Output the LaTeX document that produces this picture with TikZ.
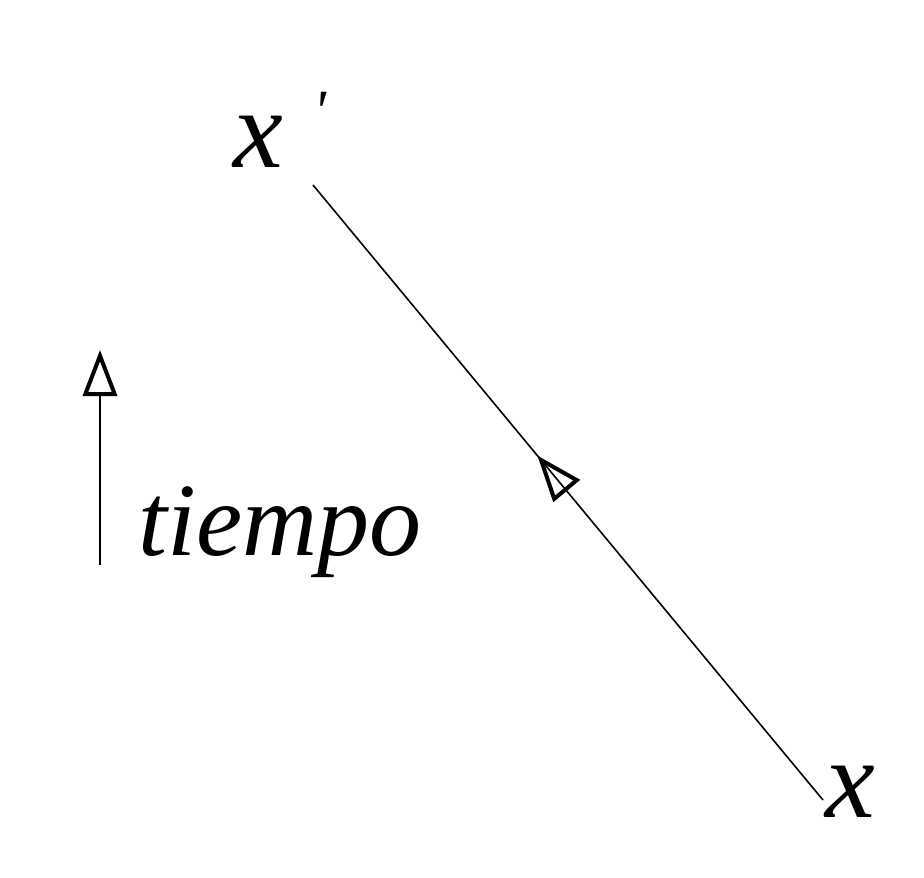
\documentclass[tikz,border=0pt]{standalone}
\usepackage{fontspec}
\setmainfont{Liberation Serif}
\usetikzlibrary{arrows.meta,decorations.markings}
\begin{document}
\begin{tikzpicture}[x=1pt,y=-1pt,
  lbl/.style={font=\fontsize{112}{120}\selectfont\itshape, inner sep=0pt},
  tri/.style={-{Triangle[open,length=46pt,width=34pt,line width=4pt]}},
  worldline/.style={line width=1.6pt, postaction={decorate},
    decoration={markings, mark=at position 0.56 with {\arrow{Triangle[open,length=46pt,width=34pt,line width=4pt]}}}}]
\useasboundingbox (0,0) rectangle (924,878);
\node[lbl] (xp) at (258,142) {x};
\node[font=\fontsize{60}{60}\selectfont\itshape, inner sep=0pt] (prime) at (320,112) {\textquotesingle};
\node[lbl] (x) at (850,792) {x};
\coordinate (a) at (823,800);
\coordinate (b) at (313,185);
\draw[worldline] (a) -- (b);
\coordinate (t0) at (100,565);
\coordinate (t1) at (100,350);
\draw[tri, line width=2.5pt] (t0) -- (t1);
\node[font=\fontsize{104}{110}\selectfont\itshape, inner sep=0pt, anchor=base west] (tiempo) at (138,555) {tiempo};
\end{tikzpicture}
\end{document}
